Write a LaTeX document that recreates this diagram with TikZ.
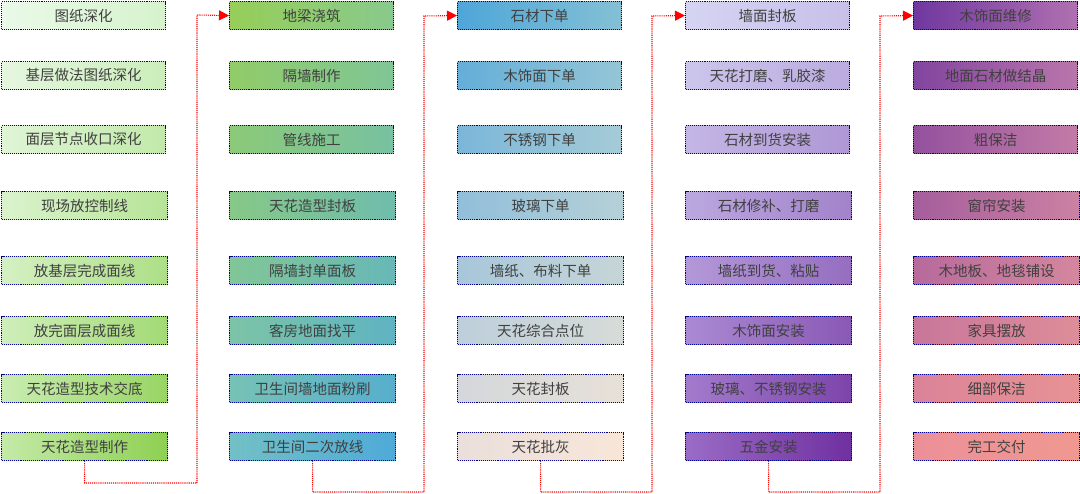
\documentclass[tikz,border=0pt]{standalone}
\usepackage{fontspec}
\newfontfamily\cjk{Noto Sans CJK SC}
\usetikzlibrary{arrows.meta}
\definecolor{aL1}{HTML}{EAF9E8}\definecolor{aR1}{HTML}{D6F3CC}
\definecolor{aL8}{HTML}{C4EAA8}\definecolor{aR8}{HTML}{8ED052}
\definecolor{bL1}{HTML}{96CE58}\definecolor{bR1}{HTML}{88CA8C}
\definecolor{bL8}{HTML}{72C0C6}\definecolor{bR8}{HTML}{4EAAD8}
\definecolor{cL1}{HTML}{4EA6D8}\definecolor{cR1}{HTML}{84C0D6}
\definecolor{cL8}{HTML}{EADFDC}\definecolor{cR8}{HTML}{F8E6D8}
\definecolor{dL1}{HTML}{D4D4F2}\definecolor{dR1}{HTML}{C8C0EA}
\definecolor{dL8}{HTML}{9A6CC6}\definecolor{dR8}{HTML}{7030A0}
\definecolor{eL1}{HTML}{7038A0}\definecolor{eR1}{HTML}{B070B0}
\definecolor{eL8}{HTML}{EC9098}\definecolor{eR8}{HTML}{F09890}
\tikzset{
  box/.style={draw=blue!55!black, densely dotted, line width=1.1pt, minimum height=28pt, inner sep=0pt, font=\cjk\fontsize{14.5}{14.5}\selectfont, text=black!75, anchor=north west},
  flow/.style={draw=red, densely dotted, line width=1.1pt},
  flowa/.style={flow, -{Triangle[length=10pt,width=10pt,fill=red]}}
}
\begin{document}
\begin{tikzpicture}[x=1pt,y=-1pt]
\useasboundingbox (0,0) rectangle (1080,494);
\def\rowy{{1,61,125,191,256,316,374,432}}
\def\colA{{"图纸深化","基层做法图纸深化","面层节点收口深化","现场放控制线","放基层完成面线","放完面层成面线","天花造型技术交底","天花造型制作"}}
\def\colB{{"地梁浇筑","隔墙制作","管线施工","天花造型封板","隔墙封单面板","客房地面找平","卫生间墙地面粉刷","卫生间二次放线"}}
\def\colC{{"石材下单","木饰面下单","不锈钢下单","玻璃下单","墙纸、布料下单","天花综合点位","天花封板","天花批灰"}}
\def\colD{{"墙面封板","天花打磨、乳胶漆","石材到货安装","石材修补、打磨","墙纸到货、粘贴","木饰面安装","玻璃、不锈钢安装","五金安装"}}
\def\colE{{"木饰面维修","地面石材做结晶","粗保洁","窗帘安装","木地板、地毯铺设","家具摆放","细部保洁","完工交付"}}
\foreach \c/\cx/\lab in {a/1/\colA, b/229/\colB, c/457/\colC, d/685/\colD, e/913/\colE}{
  \foreach \r in {0,...,7}{
    \pgfmathsetmacro{\yy}{\rowy[\r]}
    \pgfmathsetmacro{\pp}{100-\r*100/7}
    \pgfmathsetmacro{\ww}{\r>2 ? 166 : 164}
    \colorlet{LL}{\c L1!\pp!\c L8}
    \colorlet{RR}{\c R1!\pp!\c R8}
    \pgfmathsetmacro{\txt}{\lab[\r]}
    \node[box, left color=LL, right color=RR, minimum width=\ww pt] (\c\r) at (\cx,\yy) {\txt};
  }
}
\coordinate (p1) at (197,483); \coordinate (q1) at (197,15);
\draw[flowa] (a7.south) |- (p1) -- (q1) -- (b0.west);
\coordinate (p2) at (424,492); \coordinate (q2) at (424,16);
\draw[flowa] (b7.south) |- (p2) -- (q2) -- (c0.west);
\coordinate (p3) at (652,492); \coordinate (q3) at (652,16);
\draw[flowa] (c7.south) |- (p3) -- (q3) -- (d0.west);
\coordinate (p4) at (880,492); \coordinate (q4) at (880,16);
\draw[flowa] (d7.south) |- (p4) -- (q4) -- (e0.west);
\end{tikzpicture}
\end{document}
